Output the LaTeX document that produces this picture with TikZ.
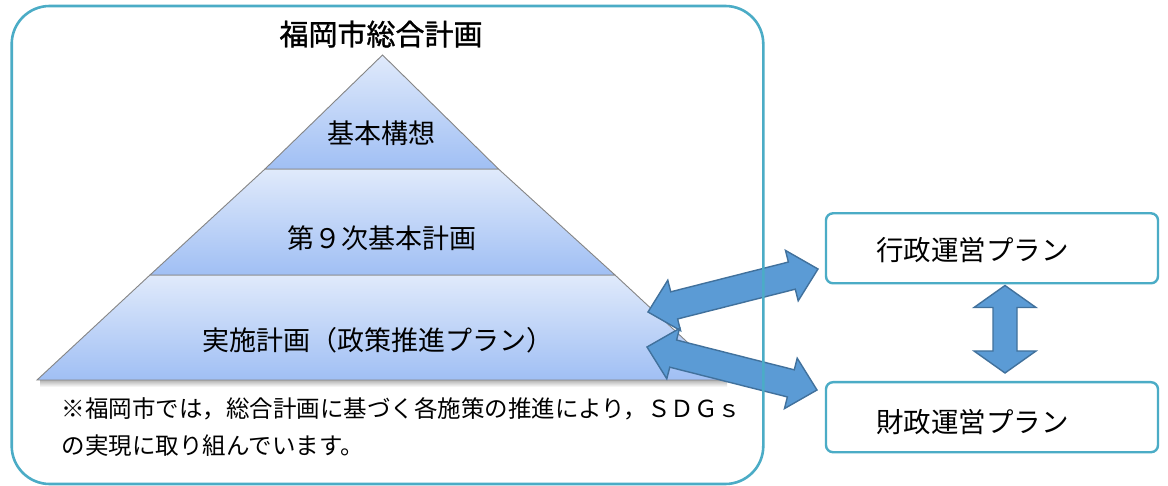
\documentclass[tikz,border=0pt]{standalone}
\usepackage{fontspec}
\newfontfamily\jp{Noto Sans CJK JP}
\newfontfamily\jpbold[FakeBold=1.2]{Noto Sans CJK JP}
\usetikzlibrary{calc}
\definecolor{frame}{HTML}{4BACC6}
\definecolor{arrfill}{HTML}{5B9BD5}
\definecolor{arrline}{HTML}{41719C}
\definecolor{tiertop}{HTML}{E0EAFB}
\definecolor{tierbot}{HTML}{A0BFF4}
\definecolor{tierline}{HTML}{858585}
\tikzset{
  tier/.style={draw=tierline, line width=0.9pt, top color=tiertop, bottom color=tierbot},
  blockarr/.style={fill=arrfill, draw=arrline, line width=1.4pt, line join=miter},
  planbox/.style={draw=frame, line width=2.4pt, rounded corners=7pt, fill=white,
    minimum width=332pt, minimum height=70pt, inner sep=0pt},
  tiertext/.style={font=\jp\fontsize{27}{32}\selectfont, inner sep=0pt},
  notetext/.style={font=\jp\fontsize{23.5}{28}\selectfont, inner sep=0pt, anchor=west},
  plantext/.style={font=\jp\fontsize{27.5}{32}\selectfont, inner sep=0pt, anchor=west},
}
\newcommand\blockarrow[5]{%
  \coordinate (#1-h) at ($(#1)!#3!(#2)$);
  \coordinate (#2-h) at ($(#2)!#3!(#1)$);
  \filldraw[blockarr] (#1)
    -- ($(#1-h)!#4!90:(#2)$) -- ($(#1-h)!#5!90:(#2)$)
    -- ($(#2-h)!#5!-90:(#1)$) -- ($(#2-h)!#4!-90:(#1)$)
    -- (#2)
    -- ($(#2-h)!#4!90:(#1)$) -- ($(#2-h)!#5!90:(#1)$)
    -- ($(#1-h)!#5!-90:(#2)$) -- ($(#1-h)!#4!-90:(#2)$) -- cycle;}
\begin{document}
\begin{tikzpicture}[x=1pt,y=-1pt]
\useasboundingbox (0,0) rectangle (1168,486);
\fill[white] (0,0) rectangle (1168,486);

% title
\node[font=\jpbold\fontsize{29}{34}\selectfont, inner sep=0pt] (title) at (381,34) {福岡市総合計画};

% pyramid
\shade[top color=black!30, bottom color=white] (40,380) rectangle (727,387);
\path[tier] (150,275) -- (615,275) -- (728,380) -- (37,380) -- cycle;
\path[tier] (265,169) -- (498.5,169) -- (615,275) -- (150,275) -- cycle;
\path[tier] (382.5,55) -- (498.5,169) -- (265,169) -- cycle;
\node[tiertext] (t1) at (381,133) {基本構想};
\node[tiertext] (t2) at (381.7,238) {第９次基本計画};
\node[tiertext] (t3) at (377.5,340) {実施計画（政策推進プラン）};

% note
\node[notetext] (n1) at (61.7,409) {※福岡市では，総合計画に基づく各施策の推進により，ＳＤＧｓ};
\node[notetext] (n2) at (61.7,446) {の実現に取り組んでいます。};

% right boxes
\node[planbox] (gyosei) at (992,248.3) {};
\node[planbox] (zaisei) at (992,417.2) {};
\node[plantext] (gyoseit) at ($(gyosei.west)+(51,2)$) {行政運営プラン};
\node[plantext] (zaiseit) at ($(zaisei.west)+(51,5)$) {財政運営プラン};

% arrows
\coordinate (uA) at (648,312);
\coordinate (uB) at (818,269);
\coordinate (lA) at (647,347);
\coordinate (lB) at (817,390);
\coordinate (vA) at (1005,285.5);
\coordinate (vB) at (1005,373);
\blockarrow{uA}{uB}{27pt}{26pt}{14pt}
\blockarrow{lA}{lB}{27pt}{26pt}{14pt}
\blockarrow{vA}{vB}{22pt}{31pt}{12pt}

% outer frame
\draw[frame, line width=2.6pt, rounded corners=38pt] (11.7,6) rectangle (763.3,484);
\end{tikzpicture}
\end{document}
